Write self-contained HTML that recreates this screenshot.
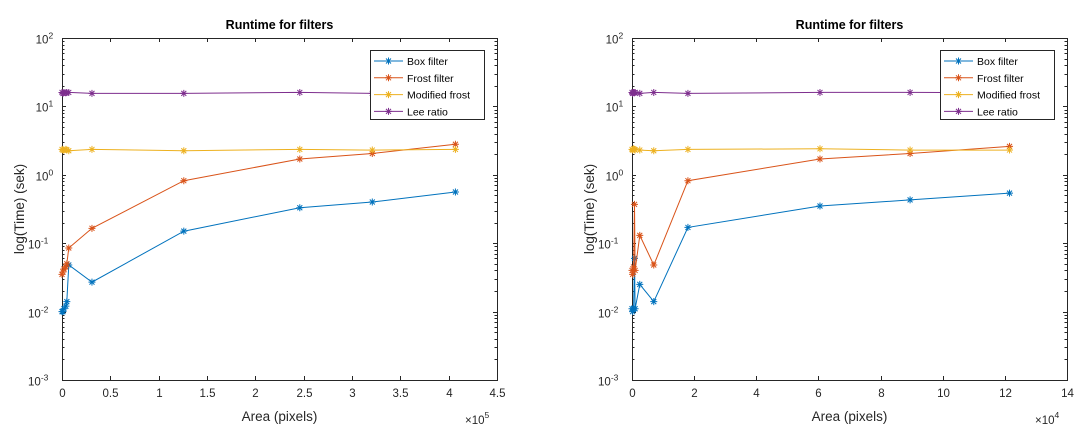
<!DOCTYPE html>
<html><head><meta charset="utf-8"><style>
body{margin:0;background:#fff;}
svg{display:block;font-family:"Liberation Sans",sans-serif;}
</style></head><body>
<svg id="chart" width="1080" height="444" viewBox="0 0 1080 444"></svg>
<script>
// ---- data: left plot (x in units of 1e5 pixels) ----
const leftX = [0.0, 0.01, 0.02, 0.04, 0.05, 0.07, 0.31, 1.26, 2.46, 3.21, 4.07];
const leftBox = [0.010, 0.010, 0.011, 0.012, 0.014, 0.048, 0.027, 0.15, 0.33, 0.40, 0.56];
const leftFrost = [0.035, 0.038, 0.042, 0.045, 0.050, 0.085, 0.165, 0.82, 1.7, 2.05, 2.8];
const leftMod = [2.35, 2.3, 2.3, 2.35, 2.3, 2.25, 2.35, 2.25, 2.35, 2.3, 2.35];
const leftLee = [16, 15.5, 16, 15.8, 16, 16, 15.5, 15.5, 16, 15.5, 15.8];
// ---- data: right plot (x in units of 1e4 pixels) ----
const rightX = [0.0, 0.02, 0.05, 0.08, 0.1, 0.25, 0.7, 1.8, 6.05, 8.95, 12.15];
const rightBox = [0.011, 0.010, 0.011, 0.06, 0.011, 0.025, 0.014, 0.17, 0.35, 0.43, 0.54];
const rightFrost = [0.040, 0.035, 0.045, 0.37, 0.040, 0.13, 0.048, 0.82, 1.7, 2.05, 2.6];
const rightMod = [2.35, 2.3, 2.4, 2.35, 2.3, 2.3, 2.25, 2.35, 2.4, 2.3, 2.3];
const rightLee = [16, 15.5, 16, 15.8, 16, 15.5, 16, 15.5, 16, 16, 15.8];
const leftXTicks = [0, 0.5, 1, 1.5, 2, 2.5, 3, 3.5, 4, 4.5];
const leftXTickLabels = ["0","0.5","1","1.5","2","2.5","3","3.5","4","4.5"];
const rightXTicks = [0, 2, 4, 6, 8, 10, 12, 14];
const rightXTickLabels = ["0","2","4","6","8","10","12","14"];
const yDecades = [-3, -2, -1, 0, 1, 2];
const seriesNames = ["Box filter", "Frost filter", "Modified frost", "Lee ratio"];
const colors = ["#0072BD", "#D95319", "#EDB120", "#7E2F8E"];

const NS = "http://www.w3.org/2000/svg";
const svg = document.getElementById("chart");
function mk(tag, attrs, parent) {
  const e = document.createElementNS(NS, tag);
  for (const k in attrs) e.setAttribute(k, attrs[k]);
  (parent || svg).appendChild(e);
  return e;
}

function star(g, x, y, c) {
  const r = 3.5, d = 2.5;
  const p = `M${x-r},${y}H${x+r}M${x},${y-r}V${y+r}M${x-d},${y-d}L${x+d},${y+d}M${x-d},${y+d}L${x+d},${y-d}`;
  const s = mk("path", {d: p, stroke: c, "stroke-width": 1, fill: "none"}, g);
  
  
}

function plot(opt) {
  const L = opt.left, R = opt.left + 435, T = 38, B = 380;
  const xs = v => L + (v - opt.xmin) / (opt.xmax - opt.xmin) * (R - L);
  const ys = v => T + (2 - Math.log10(v)) / 5 * (B - T);
  const g = mk("g", {});
  
  
  const ax = mk("g", {stroke: "#262626", "stroke-width": 1, fill: "none"}, g);
  
  
  mk("rect", {x: L + .5, y: T + .5, width: R - L, height: B - T}, ax);
  opt.xticks.forEach((t, i) => {
    const x = Math.round(xs(t)) + .5;
    mk("path", {d: `M${x},${B}v-4M${x},${T}v4`}, ax);
    const tx = mk("text", {x: x, y: B + 17, "text-anchor": "middle", "font-size": 11.5, fill: "#262626", stroke: "none"}, g);
    tx.textContent = opt.xlabels[i];
    
    
  });
  yDecades.forEach(d => {
    const y = Math.round(ys(Math.pow(10, d))) + .5;
    mk("path", {d: `M${L},${y}h4M${R},${y}h-4`}, ax);
    if (d < 2) for (let m = 2; m <= 9; m++) {
      const ym = Math.round(ys(m * Math.pow(10, d))) + .5;
      mk("path", {d: `M${L},${ym}h2.5M${R},${ym}h-2.5`}, ax);
    }
    const tx = mk("text", {x: L - 6, y: y + 5, "text-anchor": "end", "font-size": 11.5, fill: "#262626", stroke: "none"}, g);
    
    
    tx.textContent = "10";
    const sp = mk("tspan", {dy: -5, "font-size": 8.5}, tx);
    sp.textContent = String(d);
    tx.setAttribute("x", L - 4 - (String(d).length * 4.8));
  });
  opt.series.forEach((vals, si) => {
    const sg = mk("g", {}, g);
    
    
    const pts = vals.map((v, i) => xs(opt.x[i]).toFixed(1) + "," + ys(v).toFixed(1)).join(" ");
    mk("polyline", {points: pts, fill: "none", stroke: colors[si], "stroke-width": 1}, sg);
    vals.forEach((v, i) => star(sg, xs(opt.x[i]), ys(v), colors[si]));
  });
  const title = mk("text", {x: (L + R) / 2, y: 29, "text-anchor": "middle", "font-size": 12.5, "font-weight": "bold", fill: "#000"}, g);
  title.textContent = "Runtime for filters";
  
  
  const xl = mk("text", {x: (L + R) / 2, y: 421, "text-anchor": "middle", "font-size": 13.5, fill: "#262626"}, g);
  xl.textContent = "Area (pixels)";
  
  
  const yl = mk("text", {x: 0, y: 0, "text-anchor": "middle", "font-size": 13.5, fill: "#262626", transform: `translate(${L - 38},${(T + B) / 2}) rotate(-90)`}, g);
  yl.textContent = "log(Time) (sek)";
  
  
  const ex = mk("text", {x: R - 32, y: 424, "font-size": 11.5, fill: "#262626"}, g);
  ex.textContent = "×10";
  
  
  const es = mk("tspan", {dy: -6, "font-size": 8.5}, ex);
  es.textContent = opt.exp;
  const lg = mk("g", {}, g);
  
  
  const lx = R - 127, ly = 50;
  mk("rect", {x: lx + .5, y: ly + .5, width: 114, height: 69, fill: "#fff", stroke: "#262626", "stroke-width": 1}, lg);
  seriesNames.forEach((n, i) => {
    const yy = ly + 11 + i * 16.8;
    const eg = mk("g", {}, lg);
    
    
    mk("line", {x1: lx + 4, x2: lx + 33, y1: yy, y2: yy, stroke: colors[i], "stroke-width": 1}, eg);
    star(eg, lx + 18.5, yy, colors[i]);
    const t = mk("text", {x: lx + 37, y: yy + 4, "font-size": 10.5, fill: "#000"}, eg);
    t.textContent = n;
  });
}

plot({name: "left-chart", left: 62, xmin: 0, xmax: 4.5, x: leftX, series: [leftBox, leftFrost, leftMod, leftLee], xticks: leftXTicks, xlabels: leftXTickLabels, exp: "5"});
plot({name: "right-chart", left: 632, xmin: 0, xmax: 14, x: rightX, series: [rightBox, rightFrost, rightMod, rightLee], xticks: rightXTicks, xlabels: rightXTickLabels, exp: "4"});
</script>
</body></html>
